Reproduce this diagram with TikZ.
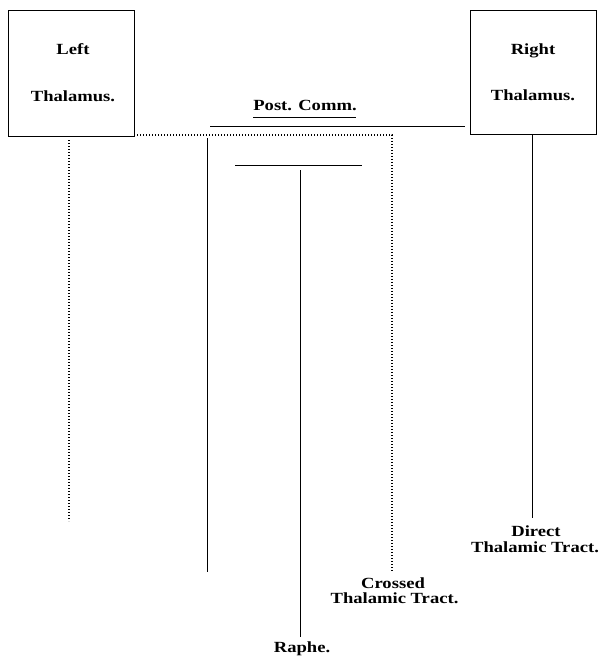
\documentclass[tikz,border=0pt]{standalone}
\usepackage{fontspec}
\setmainfont[FakeStretch=1.2]{Liberation Serif}
\begin{document}
\begin{tikzpicture}[x=1pt,y=-1pt,
  lbl/.style={font=\fontsize{15.5}{17}\selectfont\bfseries, inner sep=0pt, anchor=base},
  box/.style={draw, line width=0.9pt, minimum width=126pt, minimum height=126pt, inner sep=0pt},
  ln/.style={line width=0.9pt},
  dots/.style={line width=1.1pt, dash pattern=on 1.1pt off 1.9pt}]
\useasboundingbox (0,0) rectangle (599,658);
% boxes
\node[box] (lt) at (71,73) {};
\node[box, minimum height=124pt] (rt) at (533.5,72) {};
\node[lbl] (ltA) at (73,55) {Left};
\node[lbl] (ltB) at (73,102) {Thalamus.};
\node[lbl] (rtA) at (533,55) {Right};
\node[lbl] (rtB) at (533,101) {Thalamus.};
% post comm
\node[lbl] (pc) at (305,111) {Post. Comm.};
\draw[ln] (253,117) coordinate (u1) -- (356,117) coordinate (u2);
\coordinate (pcL) at (210,126);
\coordinate (pcR) at (465,126);
\draw[ln] (pcL) -- (pcR);
% dotted crossed tract
\coordinate (d1) at (134,135);
\coordinate (d2) at (392,135);
\coordinate (d3) at (392,572);
\draw[dots] (d1) -- (d2) -- (d3);
% left dotted
\coordinate (l1) at (69,140);
\coordinate (l2) at (69,521);
\draw[dots] (l1) -- (l2);
% left solid
\coordinate (s1) at (207,138);
\coordinate (s2) at (207,572);
\draw[ln] (s1) -- (s2);
% raphe
\coordinate (h1) at (235,165);
\coordinate (h2) at (362,165);
\draw[ln] (h1) -- (h2);
\coordinate (r1) at (300,170);
\coordinate (r2) at (300,637);
\draw[ln] (r1) -- (r2);
\node[lbl] (raphe) at (302,652) {Raphe.};
% right direct
\coordinate (rd1) at (532,135);
\coordinate (rd2) at (532,518);
\draw[ln] (rd1) -- (rd2);
\node[lbl] (directA) at (536,536) {Direct};
\node[lbl] (directB) at (535,552) {Thalamic Tract.};
\node[lbl] (crossedA) at (393,588) {Crossed};
\node[lbl] (crossedB) at (394.5,603) {Thalamic Tract.};
\end{tikzpicture}
\end{document}
